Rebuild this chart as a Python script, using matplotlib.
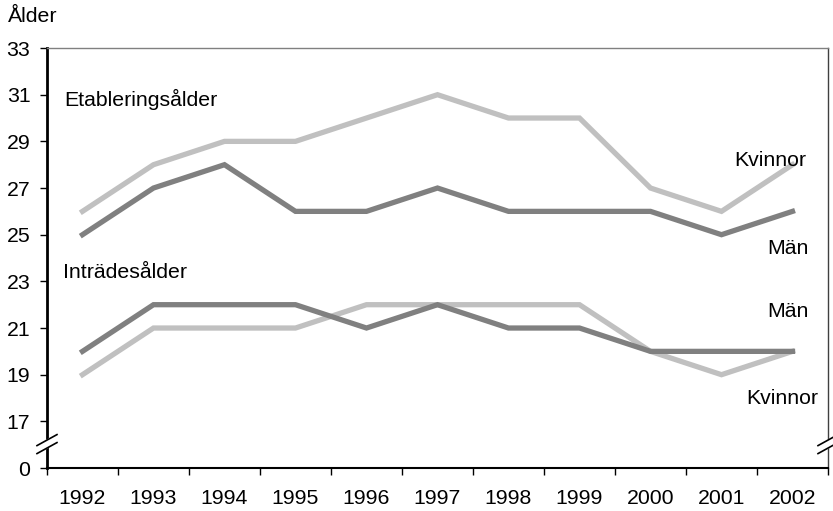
import matplotlib.pyplot as plt

plt.rcParams['font.family'] = ['Liberation Sans', 'DejaVu Sans']

years = ['1992', '1993', '1994', '1995', '1996', '1997', '1998', '1999', '2000', '2001', '2002']
etab_kvinnor = [26, 28, 29, 29, 30, 31, 30, 30, 27, 26, 28]
etab_man = [25, 27, 28, 26, 26, 27, 26, 26, 26, 25, 26]
intr_man = [20, 22, 22, 22, 21, 22, 21, 21, 20, 20, 20]
intr_kvinnor = [19, 21, 21, 21, 22, 22, 22, 22, 20, 19, 20]

# y-axis is broken: the "0" tick sits where 15 would be
ytick_pos = [15, 17, 19, 21, 23, 25, 27, 29, 31, 33]
ytick_lab = ['0', '17', '19', '21', '23', '25', '27', '29', '31', '33']

dark = '#808080'
light = '#c0c0c0'
fs = 15.3

fig = plt.figure(figsize=(8.33, 5.11), dpi=100)
ax = fig.add_axes([0.0564, 0.0841, 0.9376, 0.8219])

x = list(range(len(years)))
ax.plot(x, etab_kvinnor, color=light, lw=3.8, solid_joinstyle='miter')
ax.plot(x, etab_man, color=dark, lw=3.8, solid_joinstyle='miter')
ax.plot(x, intr_kvinnor, color=light, lw=3.8, solid_joinstyle='miter')
ax.plot(x, intr_man, color=dark, lw=3.8, solid_joinstyle='miter')

ax.set_xlim(-0.5, len(years) - 0.5)
ax.set_ylim(15, 33)

ax.set_yticks(ytick_pos)
ax.set_yticklabels(ytick_lab, fontsize=fs)
ax.tick_params(axis='y', direction='out', length=5, width=1, pad=7, color='black')

ax.set_xticks(x)
ax.set_xticklabels(years, fontsize=fs)
ax.set_xticks([i - 0.5 for i in range(len(years) + 1)], minor=True)
ax.tick_params(axis='x', which='major', length=0, pad=15)
ax.tick_params(axis='x', which='minor', direction='out', length=5, width=1)

ax.spines['left'].set_linewidth(2)
ax.spines['left'].set_color('black')
ax.spines['bottom'].set_linewidth(1.5)
ax.spines['bottom'].set_color('black')
ax.spines['top'].set_linewidth(1)
ax.spines['top'].set_color(dark)
ax.spines['right'].set_linewidth(1)
ax.spines['right'].set_color('#404040')

# break marks on both vertical axes
yb = 0.057
dx, dy, gap = 0.0128, 0.0131, 0.019
for xb in (0.0, 1.0):
    ax.fill([xb - dx, xb + dx, xb + dx, xb - dx],
            [yb - dy - gap / 2, yb + dy - gap / 2, yb + dy + gap / 2, yb - dy + gap / 2],
            color='white', transform=ax.transAxes, clip_on=False, zorder=5)
    for off in (-gap / 2, gap / 2):
        ax.plot([xb - dx, xb + dx], [yb - dy + off, yb + dy + off], color='black',
                lw=1.2, transform=ax.transAxes, clip_on=False, zorder=6)

ax.text(-0.25, 30.8, 'Etableringsålder', fontsize=fs, ha='left', va='center')
ax.text(-0.27, 23.4, 'Inträdesålder', fontsize=fs, ha='left', va='center')
ax.text(9.68, 28.2, 'Kvinnor', fontsize=fs, ha='center', va='center')
ax.text(9.94, 24.4, 'Män', fontsize=fs, ha='center', va='center')
ax.text(9.94, 21.7, 'Män', fontsize=fs, ha='center', va='center')
ax.text(9.85, 17.96, 'Kvinnor', fontsize=fs, ha='center', va='center')

fig.text(0.0096, 0.967, 'Ålder', fontsize=fs, ha='left', va='center')

fig.savefig('out.png', dpi=100)
